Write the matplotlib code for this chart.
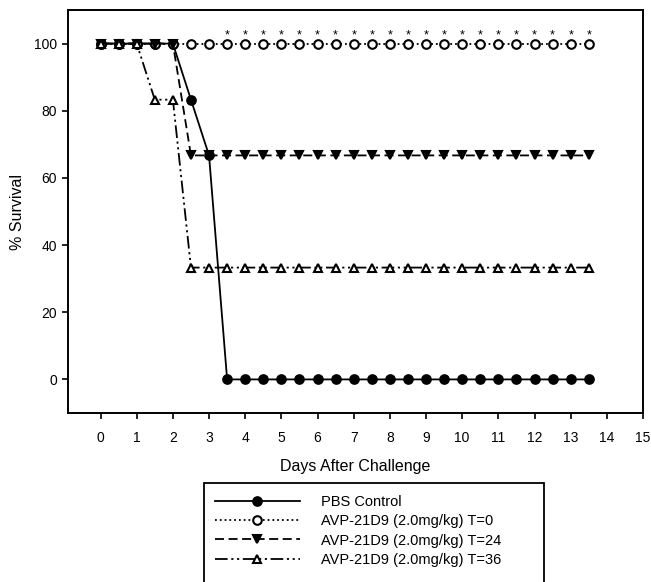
import matplotlib.pyplot as plt
import matplotlib.patches as mpatches
from matplotlib.lines import Line2D
import numpy as np

plt.rcParams['font.family'] = ['Liberation Sans', 'DejaVu Sans']

# Data
days = np.arange(0, 14, 0.5)
pbs = [100, 100, 100, 100, 100, 83.3, 66.7] + [0] * 21
t0 = [100] * 28
t24 = [100, 100, 100, 100, 100] + [66.7] * 23
t36 = [100, 100, 100, 83.3, 83.3] + [33.3] * 23
star_days = np.arange(3.5, 14, 0.5)

labels = ["PBS Control", "AVP-21D9 (2.0mg/kg) T=0",
          "AVP-21D9 (2.0mg/kg) T=24", "AVP-21D9 (2.0mg/kg) T=36"]

fig = plt.figure(figsize=(6.51, 5.82), dpi=100)
ax = fig.add_axes([68 / 651, 1 - 413 / 582, 575 / 651, 403 / 582])

dashdotdot = (0, (7, 2, 1.2, 2, 1.2, 2))
styles = [
    dict(ls='-', marker='o', mfc='black'),
    dict(ls=':', marker='o', mfc='white'),
    dict(ls=(0, (5, 2.5)), marker='v', mfc='black'),
    dict(ls=dashdotdot, marker='^', mfc='white'),
]
series = [pbs, t0, t24, t36]
for y, st in zip(series, styles):
    ax.plot(days, y, color='black', lw=1.3, ms=6.2, mec='black', mew=1.5, **st)

for d in star_days:
    ax.annotate('*', (d, 100), xytext=(0, 1.5), textcoords='offset points',
                ha='center', va='bottom', fontsize=9)

ax.set_xlim(-0.9, 15)
ax.set_ylim(-10, 110)
ax.set_xticks(range(0, 16))
ax.set_yticks(range(0, 101, 20))
ax.tick_params(direction='out', length=4, width=1.2, labelsize=10, pad=9)
ax.tick_params(axis='y', pad=4)
for s in ax.spines.values():
    s.set_linewidth(1.4)
ax.set_xlabel("Days After Challenge", fontsize=11.5, labelpad=10)
ax.set_ylabel("% Survival", fontsize=11.5, labelpad=6)

# Legend box (bottom cut off by figure edge)
fig.patches.append(mpatches.Rectangle((204 / 651, -0.05), 340 / 651, (582 - 483) / 582 + 0.05,
                                      transform=fig.transFigure, fill=False,
                                      edgecolor='black', lw=1.3))
handles = [Line2D([], [], color='black', lw=1.3, ms=6.2, mec='black', mew=1.5, **st)
           for st in styles]
fig.legend(handles, labels, loc='upper left', bbox_to_anchor=(215 / 651, 1 - 495 / 582),
           frameon=False, fontsize=10.5, handlelength=5.8, handletextpad=1.5,
           labelspacing=0.36, borderpad=0, borderaxespad=0)

plt.savefig('out.png', dpi=100)
